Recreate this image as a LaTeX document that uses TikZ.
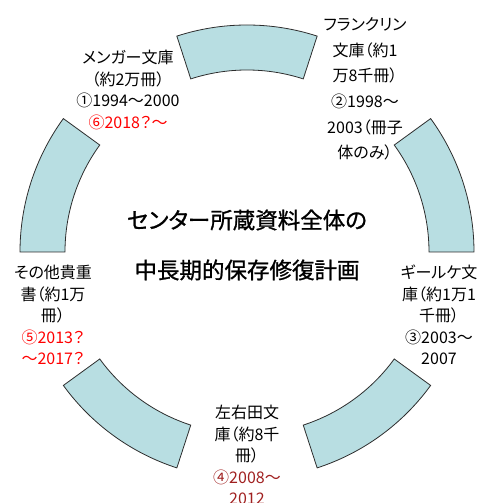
\documentclass[tikz,border=0pt]{standalone}
\usepackage{fontspec}
\newfontfamily\jp[RawFeature=+palt]{Noto Sans CJK JP}
\newfontfamily\jpt[RawFeature=+palt,FakeBold=1]{Noto Sans CJK JP}
\definecolor{segfill}{RGB}{184,222,226}
\definecolor{segline}{RGB}{45,45,45}
\definecolor{darkred}{RGB}{160,32,32}
\definecolor{brightred}{RGB}{255,0,0}
\begin{document}
\begin{tikzpicture}[x=1pt,y=1pt,
  seg/.style={fill=segfill,draw=segline,line width=0.8pt},
  lbl/.style={font=\jp\fontsize{16}{21.5}\selectfont,align=center,inner sep=0pt},
  lblwide/.style={font=\jp\fontsize{16}{25.6}\selectfont,align=center,inner sep=0pt},
  ttl/.style={font=\jpt\fontsize{22.5}{50}\selectfont,align=center,inner sep=0pt}]
\useasboundingbox (-247,-251) rectangle (234,252);
\foreach \c in {90,18,-54,-126,162}{
  \draw[seg] ({\c-18}:182) arc[start angle={\c-18}, end angle={\c+18}, radius=182]
    -- ({\c+18}:227) arc[start angle={\c+18}, end angle={\c-18}, radius=227] -- cycle;
}
\node[ttl] (title) at (0,7) {センター所蔵資料全体の\\中長期的保存修復計画};
\node[lbl] (menger) at (-119,162) {メンガー文庫\\（約2万冊）\\①1994～2000\\\textcolor{brightred}{⑥2018？～}};
\node[lblwide] (franklin) at (118,163) {フランクリン\\文庫（約1\\万8千冊）\\②1998～\\2003（冊子\\体のみ）};
\node[lbl] (gierke) at (192,-63) {ギールケ文\\庫（約1万1\\千冊）\\③2003～\\2007};
\node[lbl] (souda) at (0,-203) {左右田文\\庫（約8千\\冊）\\\textcolor{darkred}{④2008～}\\\textcolor{darkred}{2012}};
\node[lbl] (other) at (-194,-63) {その他貴重\\書（約1万\\冊）\\\textcolor{brightred}{⑤2013？}\\\textcolor{brightred}{～2017？}};
\end{tikzpicture}
\end{document}
